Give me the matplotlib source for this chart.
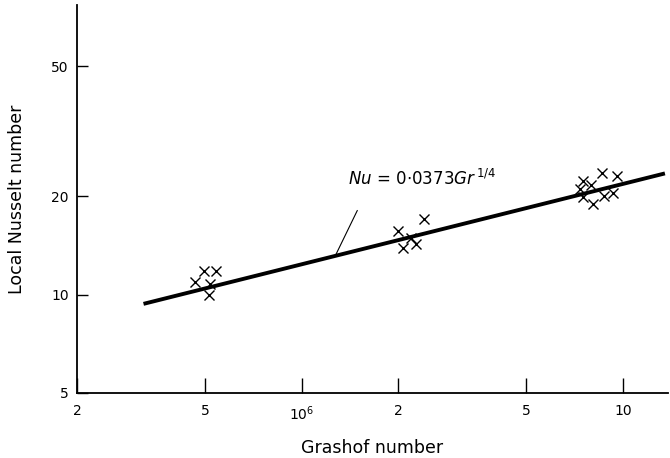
import numpy as np
import matplotlib.pyplot as plt
from matplotlib.ticker import FixedLocator, NullLocator

plt.rcParams['font.family'] = ['DejaVu Sans']
plt.rcParams['mathtext.default'] = 'regular'

gr_pts = [4.64e5, 4.95e5, 5.40e5, 5.17e5, 5.13e5,
          2.00e6, 2.40e6, 2.19e6, 2.06e6, 2.27e6,
          7.50e6, 8.60e6, 9.58e6, 7.95e6, 7.34e6, 7.50e6, 8.07e6, 8.73e6, 9.31e6]
nu_pts = [10.9, 11.8, 11.8, 10.75, 9.95,
          15.7, 17.1, 14.9, 13.9, 14.3,
          22.3, 23.5, 23.0, 21.6, 21.1, 19.95, 19.0, 20.1, 20.4]

# correlation line end points
gr_line = [3.22e5, 1.35e7]
nu_line = [9.37, 23.5]

x_ticks = [2e5, 5e5, 1e6, 2e6, 5e6, 1e7]
x_labels = ['2', '5', '$10^6$', '2', '5', '10']
y_ticks = [5, 10, 20, 50]
y_labels = ['5', '10', '20', '50']

fig = plt.figure(figsize=(6.7, 4.58), dpi=100)
ax = fig.add_axes([0.115, 0.142, 0.882, 0.847])

ax.plot(gr_line, nu_line, color='black', lw=2.8, solid_capstyle='butt')
ax.plot(gr_pts, nu_pts, 'x', color='black', ms=7, mew=1.0)

ax.set_xscale('log')
ax.set_yscale('log')
ax.set_xlim(2e5, 1.38e7)
ax.set_ylim(5, 77)

ax.xaxis.set_major_locator(FixedLocator(x_ticks))
ax.xaxis.set_minor_locator(NullLocator())
ax.set_xticklabels(x_labels)
ax.yaxis.set_major_locator(FixedLocator(y_ticks))
ax.yaxis.set_minor_locator(NullLocator())
ax.set_yticklabels(y_labels)

ax.tick_params(axis='x', direction='in', length=11, width=1, pad=8, labelsize=10)
ax.tick_params(axis='y', direction='in', length=8, width=1, pad=6, labelsize=10)

for s in ['top', 'right']:
    ax.spines[s].set_visible(False)
for s in ['left', 'bottom']:
    ax.spines[s].set_linewidth(1.3)

ax.set_xlabel('Grashof number', fontsize=12.5, labelpad=12)
ax.set_ylabel('Local Nusselt number', fontsize=12.5, labelpad=18)

# label and leader line
ax.text(1.39e6, 21.7, r'$\it{Nu}$ = 0$\cdot$0373$\it{Gr}^{\,1/4}$',
        fontsize=12, ha='left', va='baseline')
ax.annotate('', xy=(1.27e6, 13.1), xytext=(1.49e6, 18.1),
            arrowprops=dict(arrowstyle='-', color='black', lw=0.8,
                            shrinkA=0, shrinkB=0))

fig.savefig('out.png', dpi=100)
